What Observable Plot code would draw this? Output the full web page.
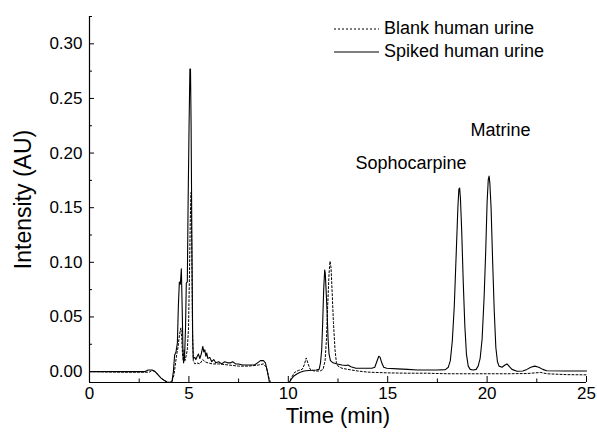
<!DOCTYPE html>
<html><head><meta charset="utf-8">
<script src="https://cdn.jsdelivr.net/npm/d3@7"></script>
<script src="https://cdn.jsdelivr.net/npm/@observablehq/plot@0.6"></script>
<style>
body{margin:0;background:#fff;}
#wrap{position:relative;width:597px;height:441px;font-family:"Liberation Sans",Arial,sans-serif;}
#legend{position:absolute;left:334px;top:17px;font-size:18px;line-height:23px;color:#000;}
.row{display:flex;align-items:center;height:23px;white-space:nowrap}
.row svg{margin-right:5px;display:block}
</style></head><body><div id="wrap"><div id="legend"></div></div>
<script>
// Time (min) and intensity (AU)
const blankTime = [0,1.8,3.0,3.15,3.3,3.45,3.6,3.75,3.9,4.05,4.15,4.25,4.3,4.38,4.45,4.5,4.55,4.6,4.64,4.68,4.72,4.76,4.8,4.86,4.92,4.98,5.03,5.07,5.11,5.14,5.18,5.22,5.3,5.4,5.55,5.7,5.8,5.95,6.2,6.5,7.0,7.5,8.0,8.5,8.75,8.9,9.0,9.1,10.05,10.15,10.3,10.5,10.7,10.8,10.9,11.0,11.1,11.3,11.6,11.75,11.85,11.92,11.98,12.05,12.1,12.15,12.2,12.27,12.35,12.42,12.5,12.7,13.0,13.5,14.0,15.0,16.0,17.0,18.0,19.0,20.0,21.0,22.0,22.7,23.0,24.0,25.0];
const blankIntensity = [0,-0.0006,-0.0006,0.001,0,-0.003,-0.006,-0.008,-0.0095,-0.010,-0.009,-0.003,0.004,0.015,0.022,0.030,0.036,0.040,0.030,0.015,0.010,0.020,0.010,0.014,0.020,0.040,0.090,0.140,0.164,0.120,0.040,0.010,0.007,0.008,0.007,0.011,0.009,0.008,0.007,0.007,0.006,0.005,0.005,0.006,0.007,0.004,-0.004,-0.010,-0.010,-0.006,-0.001,0.001,0.002,0.006,0.0125,0.007,0.002,0.0005,0.0005,0.002,0.010,0.030,0.060,0.090,0.101,0.095,0.075,0.045,0.020,0.008,0.005,0.003,0.002,0.0005,-0.0005,-0.0012,-0.0015,-0.0015,-0.002,-0.002,-0.002,-0.002,-0.0018,-0.0008,-0.002,-0.0028,-0.003];

const spikedTime = [0,2.8,2.95,3.15,3.3,3.45,3.6,3.75,3.9,4.05,4.15,4.22,4.28,4.35,4.42,4.47,4.52,4.57,4.62,4.66,4.70,4.73,4.78,4.83,4.87,4.92,4.96,5.01,5.05,5.08,5.11,5.15,5.19,5.22,5.3,5.35,5.42,5.48,5.55,5.62,5.7,5.75,5.8,5.85,5.9,5.95,6.05,6.15,6.25,6.35,6.5,6.65,6.8,6.95,7.1,7.2,7.35,7.5,7.7,7.9,8.1,8.3,8.45,8.6,8.75,8.85,8.95,9.05,10.05,10.15,10.28,10.45,10.6,10.8,11.0,11.2,11.4,11.55,11.62,11.68,11.73,11.78,11.83,11.86,11.9,11.95,12.0,12.05,12.12,12.25,12.45,12.7,12.9,13.0,13.15,13.4,13.8,14.2,14.35,14.45,14.55,14.62,14.7,14.8,14.95,15.5,16.0,16.5,17.0,17.5,17.9,18.05,18.15,18.25,18.35,18.45,18.53,18.58,18.62,18.66,18.72,18.8,18.88,18.96,19.05,19.15,19.3,19.45,19.55,19.65,19.75,19.85,19.93,20.0,20.06,20.1,20.14,20.2,20.28,20.36,20.44,20.52,20.6,20.75,20.9,21.0,21.1,21.25,21.5,21.8,22.0,22.2,22.4,22.6,22.8,23.0,24.0,25.0];
const spikedIntensity = [0,0,0.0015,0.0015,0,-0.003,-0.006,-0.008,-0.0095,-0.010,-0.009,0.0,0.015,0.018,0.026,0.060,0.082,0.080,0.094,0.060,0.020,0.008,0.012,0.040,0.081,0.082,0.154,0.227,0.277,0.277,0.227,0.120,0.030,0.012,0.013,0.011,0.014,0.016,0.012,0.016,0.023,0.018,0.020,0.014,0.017,0.012,0.013,0.009,0.011,0.008,0.009,0.007,0.009,0.008,0.008,0.009,0.007,0.007,0.006,0.006,0.006,0.006,0.008,0.010,0.010,0.008,0.000,-0.010,-0.010,-0.007,-0.004,-0.002,-0.0006,0.0005,0.001,0.0012,0.0015,0.002,0.008,0.020,0.045,0.075,0.093,0.090,0.075,0.055,0.030,0.016,0.010,0.008,0.007,0.006,0.0055,0.006,0.0045,0.003,0.003,0.003,0.004,0.009,0.014,0.013,0.008,0.004,0.003,0.0025,0.002,0.0015,0.0015,0.0015,0.0018,0.004,0.010,0.028,0.060,0.110,0.150,0.167,0.168,0.158,0.130,0.082,0.042,0.016,0.005,0.002,0.0015,0.002,0.005,0.012,0.030,0.068,0.110,0.155,0.176,0.179,0.172,0.150,0.100,0.055,0.022,0.009,0.005,0.004,0.006,0.007,0.005,0.002,0.0003,0.0005,0.002,0.004,0.005,0.004,0.002,0.0008,0.0005,0.0005];

const xMajorTicks = [0,5,10,15,20,25];
const xMinorTicks = [2.5,7.5,12.5,17.5,22.5];
const yMajorTicks = [0,0.05,0.10,0.15,0.20,0.25,0.30];
const yMinorTicks = [0.025,0.075,0.125,0.175,0.225,0.275,0.325];

const peakNames = ["Sophocarpine","Matrine"];
const peakLabelTime = [16.17,20.67];
const peakLabelIntensity = [0.191,0.2208];

const seriesNames = ["Blank human urine","Spiked human urine"];

const blank = blankTime.map((t,i)=>({t, v: blankIntensity[i]}));
const spiked = spikedTime.map((t,i)=>({t, v: spikedIntensity[i]}));
const peaks = peakNames.map((name,i)=>({name, t: peakLabelTime[i], v: peakLabelIntensity[i]}));

const font = '"Liberation Sans", Arial, sans-serif';

const chart = Plot.plot({
  width: 597, height: 441,
  marginLeft: 89, marginRight: 11, marginTop: 16, marginBottom: 59,
  style: {fontFamily: font, fontSize: "17px", color: "#000", background: "#fff", overflow: "visible"},
  x: {domain: [0,25]},
  y: {domain: [-0.01,0.325]},
  marks: [
    Plot.axisX(xMajorTicks, {tickSize: 0, tickPadding: 4, fontSize: 17, label: null}),
    Plot.axisX(xMajorTicks, {tickSize: -6, tickFormat: () => "", label: null}),
    Plot.axisX(xMinorTicks, {tickSize: -3.5, tickFormat: () => "", label: null}),
    Plot.axisY(yMajorTicks, {tickSize: 0, tickPadding: 7, tickFormat: d3.format(".2f"), fontSize: 17, label: null}),
    Plot.axisY(yMajorTicks, {tickSize: -5, tickFormat: () => "", label: null}),
    Plot.axisY(yMinorTicks, {tickSize: -3, tickFormat: () => "", label: null}),
    Plot.line(blank, {x: "t", y: "v", stroke: "#000", strokeWidth: 1, strokeDasharray: "2,2"}),
    Plot.line(spiked, {x: "t", y: "v", stroke: "#000", strokeWidth: 1.1}),
    Plot.ruleX([0], {stroke: "#000", strokeWidth: 1.2}),
    Plot.ruleY([-0.01], {stroke: "#000", strokeWidth: 1.2}),
    Plot.text(peaks, {x: "t", y: "v", text: "name", fontSize: 18, fill: "#000"}),
    Plot.text(["Time (min)"], {frameAnchor: "bottom", textAnchor: "middle", lineAnchor: "middle", dy: 33, fontSize: 22, fill: "#000"}),
    Plot.text(["Intensity (AU)"], {frameAnchor: "left", textAnchor: "middle", lineAnchor: "middle", dx: -66, rotate: -90, fontSize: 23, fill: "#000"})
  ]
});
document.getElementById("wrap").prepend(chart);

const legend = document.getElementById("legend");
seriesNames.forEach((name, i) => {
  const row = document.createElement("div");
  row.className = "row";
  const dash = i === 0 ? 'stroke-dasharray="2,2"' : '';
  row.innerHTML = `<svg width="45" height="4"><line x1="0" x2="45" y1="2" y2="2" stroke="#000" stroke-width="1.1" ${dash}></line></svg><span>${name}</span>`;
  legend.appendChild(row);
});
</script>
</body></html>
